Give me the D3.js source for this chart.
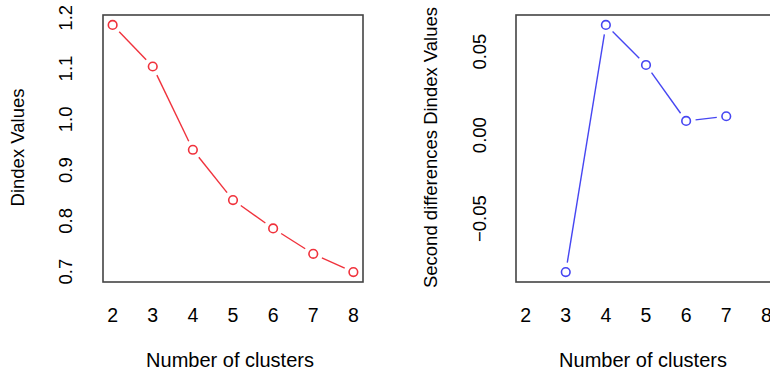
<!DOCTYPE html>
<html>
<head>
<meta charset="utf-8">
<script src="https://cdn.jsdelivr.net/npm/d3@7"></script>
<style>
  body { margin: 0; background: #fff; }
  svg text { font-family: "Liberation Sans", Arial, sans-serif; fill: #000; }
</style>
</head>
<body>
<svg id="chart" width="770" height="375"></svg>
<script>
// number of clusters on each panel
const clustersDindex = [2, 3, 4, 5, 6, 7, 8];
const dindexValues = [1.186, 1.104, 0.940, 0.841, 0.785, 0.735, 0.699];

const clustersSecond = [3, 4, 5, 6, 7];
const secondDiffValues = [-0.082, 0.066, 0.042, 0.0085, 0.0113];

const xTicks = [2, 3, 4, 5, 6, 7, 8];
const dindexTicks = [0.7, 0.8, 0.9, 1.0, 1.1, 1.2];
const secondTicks = [-0.05, 0.00, 0.05];

const svg = d3.select('#chart');

// R style axis range: data range padded by 4% each side
function pad(ext) {
  const r = ext[1] - ext[0];
  return [ext[0] - 0.04 * r, ext[1] + 0.04 * r];
}

function panel(opts) {
  const {left, right, top, bottom, xs, ys, yTicks, yFmt, color, yTitle, yTickX, yTitleX} = opts;

  const x = d3.scaleLinear().domain(pad([2, 8])).range([left, right]);
  const y = d3.scaleLinear().domain(pad(d3.extent(ys))).range([bottom, top]);

  const g = svg.append('g');

  // plot box
  g.append('rect')
    .attr('x', left).attr('y', top)
    .attr('width', right - left).attr('height', bottom - top)
    .attr('fill', 'none')
    .attr('stroke', '#444')
    .attr('stroke-width', 1.6);

  // x tick labels (no tick marks, like the original)
  g.selectAll('.xt')
    .data(xTicks)
    .join('text')
    .attr('x', d => x(d))
    .attr('y', 322)
    .attr('text-anchor', 'middle')
    .style('font-size', '19.5px')
    .text(d => d);

  // y tick labels, rotated
  g.selectAll('.yt')
    .data(yTicks)
    .join('text')
    .attr('transform', d => `translate(${yTickX},${y(d)}) rotate(-90)`)
    .attr('text-anchor', 'middle')
    .attr('dy', '0.35em')
    .style('font-size', '18.5px')
    .text(yFmt);

  g.append('text')
    .attr('x', (left + right) / 2 - 3)
    .attr('y', 367)
    .attr('text-anchor', 'middle')
    .style('font-size', '20px')
    .text('Number of clusters');

  g.append('text')
    .attr('transform', `translate(${yTitleX},${(top + bottom) / 2 - 1}) rotate(-90)`)
    .attr('text-anchor', 'middle')
    .attr('dy', '0.35em')
    .style('font-size', '18.5px')
    .text(yTitle);

  // type = "b": segments with a gap around each point
  const pts = xs.map((d, i) => [x(d), y(ys[i])]);
  const gap = 9.5;
  const segs = d3.pairs(pts).map(([a, b]) => {
    const dx = b[0] - a[0], dy = b[1] - a[1];
    const len = Math.hypot(dx, dy);
    const ux = dx / len, uy = dy / len;
    return [[a[0] + ux * gap, a[1] + uy * gap], [b[0] - ux * gap, b[1] - uy * gap], len];
  }).filter(s => s[2] > 2 * gap);

  g.selectAll('.seg')
    .data(segs)
    .join('line')
    .attr('x1', d => d[0][0]).attr('y1', d => d[0][1])
    .attr('x2', d => d[1][0]).attr('y2', d => d[1][1])
    .attr('stroke', color)
    .attr('stroke-width', 1.4);

  g.selectAll('.pt')
    .data(pts)
    .join('circle')
    .attr('cx', d => d[0]).attr('cy', d => d[1])
    .attr('r', 4.3)
    .attr('fill', 'none')
    .attr('stroke', color)
    .attr('stroke-width', 1.6);
}

panel({
  left: 103, right: 363, top: 15, bottom: 282,
  xs: clustersDindex, ys: dindexValues,
  yTicks: dindexTicks, yFmt: d3.format('.1f'),
  color: '#f0323c',
  yTitle: 'Dindex Values', yTickX: 66, yTitleX: 18
});

panel({
  left: 516, right: 776, top: 15, bottom: 282,
  xs: clustersSecond, ys: secondDiffValues,
  yTicks: secondTicks, yFmt: d => d === 0 ? '0.00' : d3.format('.2f')(d),
  color: '#4646f2',
  yTitle: 'Second differences Dindex Values', yTickX: 480, yTitleX: 431
});
</script>
</body>
</html>
